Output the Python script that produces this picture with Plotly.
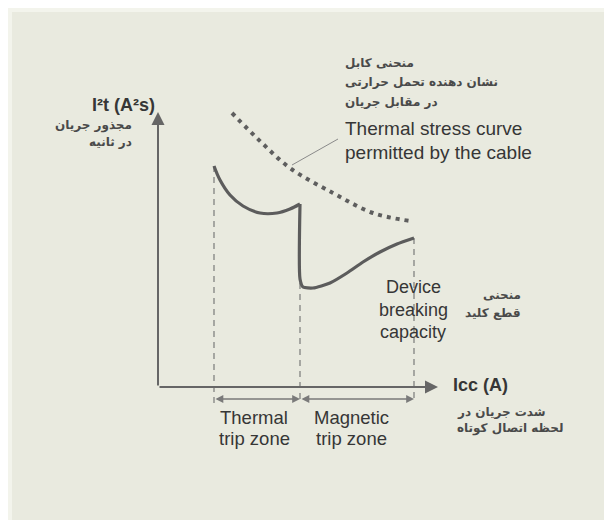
import plotly.graph_objects as go

# ---- data (arbitrary chart units: x = Icc, y = I2t) ----
thermal_x = [5.6, 6.2, 7.2, 8.5, 10.2, 11.9, 13.2, 14.2]
thermal_y = [22.1, 20.7, 19.2, 18.1, 17.4, 17.4, 17.8, 18.3]

magnetic_x = [14.2, 14.2, 14.5, 15.5, 17.2, 18.9, 20.5, 22.2, 23.9, 25.6]
magnetic_y = [18.3, 10.8, 10.0, 9.9, 10.4, 11.4, 12.5, 13.5, 14.3, 14.9]

cable_x = [7.4, 10.3, 13.2, 17.5, 21.5, 25.2]
cable_y = [27.4, 24.5, 21.9, 19.4, 17.4, 16.6]

leader_x = [13.4, 18.0]
leader_y = [22.2, 24.8]

zone_bounds = [5.6, 14.2, 25.6]
zone_tops = [22.1, 10.4, 14.9]
zone_bottom = -1.6
zone_arrow_y = -1.2
zone_names = ["Thermal", "Magnetic"]

y_axis_top = 27.5
x_axis_end = 28.0

TXT = "#363636"
FA_COL = "#4a4a4a"
CURVE = "#5c5c5c"
EN = "Liberation Sans, Arial, sans-serif"
FA = "DejaVu Sans, sans-serif"

fig = go.Figure()

# dashed zone boundaries
for xb, yt in zip(zone_bounds, zone_tops):
    fig.add_trace(go.Scatter(x=[xb, xb], y=[yt, zone_bottom], mode="lines",
                             line=dict(color="#7a7a7a", width=1.2, dash="6px,5px"),
                             hoverinfo="skip", showlegend=False))

# cable thermal stress curve (dotted)
fig.add_trace(go.Scatter(x=cable_x, y=cable_y, mode="lines", line_shape="spline",
                         line=dict(color="#5e5e5e", width=4, dash="4px,5px"),
                         hoverinfo="skip", showlegend=False))

# leader line
fig.add_trace(go.Scatter(x=leader_x, y=leader_y, mode="lines",
                         line=dict(color="#8a8a8a", width=1),
                         hoverinfo="skip", showlegend=False))

# device curve: thermal part and magnetic part
fig.add_trace(go.Scatter(x=thermal_x, y=thermal_y, mode="lines", line_shape="spline",
                         line=dict(color=CURVE, width=3.2, smoothing=1),
                         hoverinfo="skip", showlegend=False))
fig.add_trace(go.Scatter(x=magnetic_x, y=magnetic_y, mode="lines", line_shape="spline",
                         line=dict(color=CURVE, width=3.2, smoothing=0.6),
                         hoverinfo="skip", showlegend=False))

ann = []
# axes with arrows
ann.append(dict(x=0, y=y_axis_top, ax=0, ay=0, xref="x", yref="y", axref="x", ayref="y",
                showarrow=True, arrowhead=2, arrowsize=1.3, arrowwidth=2, arrowcolor="#666666", text=""))
ann.append(dict(x=x_axis_end, y=0, ax=0, ay=0, xref="x", yref="y", axref="x", ayref="y",
                showarrow=True, arrowhead=2, arrowsize=1.3, arrowwidth=2, arrowcolor="#666666", text=""))
# zone arrows
for i in range(2):
    ann.append(dict(x=zone_bounds[i + 1], y=zone_arrow_y, ax=zone_bounds[i], ay=zone_arrow_y,
                    xref="x", yref="y", axref="x", ayref="y", showarrow=True,
                    arrowhead=2, arrowside="end+start", arrowsize=1.2, arrowwidth=1.3,
                    arrowcolor="#7a7a7a", text=""))

def txt(x, y, s, size, xanchor="center", bold=False, font=EN, color=TXT):
    if bold:
        s = "<b>" + s + "</b>"
    ann.append(dict(x=x, y=y, xref="x", yref="y", text=s, showarrow=False,
                    xanchor=xanchor, yanchor="middle",
                    font=dict(family=font, size=size, color=color)))

FS = 12
txt(-0.1, 28.2, "I²t (A²s)", 18, "right", bold=True)
txt(-2.4, 26.2, "مجذور جریان", FS, "right", bold=True, font=FA, color=FA_COL)
txt(-2.4, 24.5, "در ثانیه", FS, "right", bold=True, font=FA, color=FA_COL)

txt(18.5, 32.4, "منحنی کابل", FS, "left", bold=True, font=FA, color=FA_COL)
txt(18.5, 30.5, "نشان دهنده تحمل حرارتی", FS, "left", bold=True, font=FA, color=FA_COL)
txt(18.5, 28.5, "در مقابل جریان", FS, "left", bold=True, font=FA, color=FA_COL)

txt(18.5, 25.9, "Thermal stress curve", 19, "left")
txt(18.5, 23.5, "permitted by the cable", 19, "left")

txt(25.5, 10.0, "Device", 18)
txt(25.5, 7.7, "breaking", 18)
txt(25.5, 5.5, "capacity", 18)

txt(36.5, 9.2, "منحنی", FS, "right", bold=True, font=FA, color=FA_COL)
txt(36.5, 7.4, "قطع کلید", FS, "right", bold=True, font=FA, color=FA_COL)

txt(29.3, 0.2, "Icc (A)", 18, "left", bold=True)
txt(29.7, -2.5, "شدت جریان در", FS, "left", bold=True, font=FA, color=FA_COL)
txt(29.7, -4.1, "لحظه اتصال کوتاه", FS, "left", bold=True, font=FA, color=FA_COL)

zone_centers = [(zone_bounds[0] + zone_bounds[1]) / 2 - 0.3, (zone_bounds[1] + zone_bounds[2]) / 2 - 0.6]
for cx, name in zip(zone_centers, zone_names):
    txt(cx, -3.0, name, 18.5)
    txt(cx, -5.1, "trip zone", 18.5)

# page body has an 8px margin: figure covers reference pixels 8..612 x 8..520
fig.update_layout(
    width=604, height=512, autosize=False,
    margin=dict(l=0, r=0, t=0, b=0),
    paper_bgcolor="#f3f4ec", plot_bgcolor="rgba(0,0,0,0)",
    xaxis=dict(range=[-15.0, 45.4], visible=False, fixedrange=True),
    yaxis=dict(range=[-13.3, 37.9], visible=False, fixedrange=True),
    shapes=[dict(type="rect", xref="paper", yref="paper", x0=4 / 604, x1=1, y0=0, y1=1 - 4 / 512,
                 fillcolor="#e9eadf", line=dict(width=0), layer="below")],
    annotations=ann,
    showlegend=False,
)

fig.write_html("out.html", config={"displayModeBar": False})
